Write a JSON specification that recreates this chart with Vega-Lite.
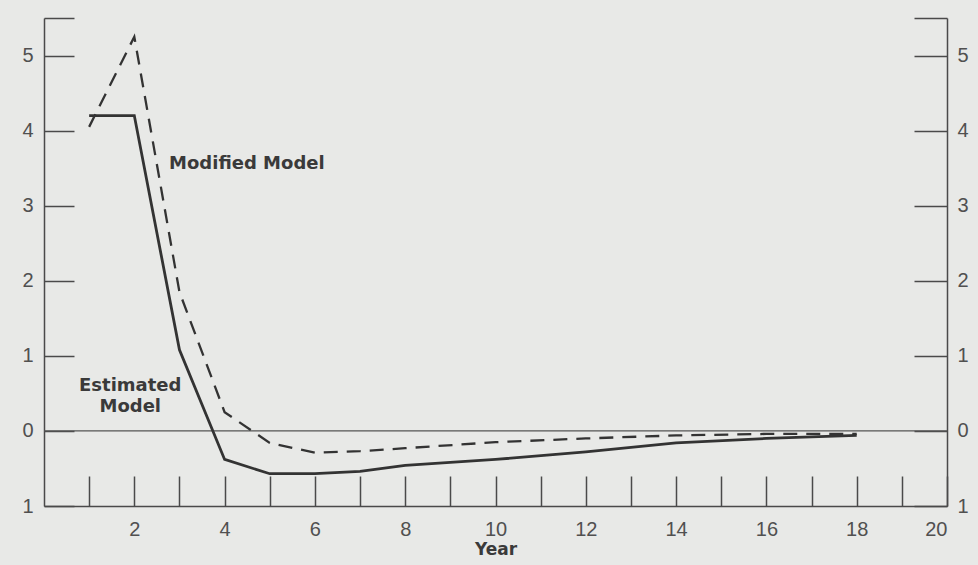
{
  "$schema": "https://vega.github.io/schema/vega-lite/v6.json",
  "autosize": "none",
  "width": 903,
  "height": 488,
  "padding": {"left": 44, "top": 18, "right": 31, "bottom": 59},
  "background": "#e8e9e7",
  "config": {
    "view": {"stroke": null},
    "axis": {"grid": false, "domainColor": "#4a4a4a", "tickColor": "#4a4a4a", "domainWidth": 1.5, "tickWidth": 1.5, "labelColor": "#505050", "labelFont": "Liberation Sans", "labelFontSize": 20, "titleFont": "DejaVu Sans", "titleFontWeight": "bold", "titleColor": "#3a3a3a"}
  },
  "datasets": {
    "series": [
      {"year": 1, "value": 4.2, "model": "Estimated"},
      {"year": 2, "value": 4.2, "model": "Estimated"},
      {"year": 3, "value": 1.08, "model": "Estimated"},
      {"year": 4, "value": -0.38, "model": "Estimated"},
      {"year": 5, "value": -0.57, "model": "Estimated"},
      {"year": 6, "value": -0.57, "model": "Estimated"},
      {"year": 7, "value": -0.54, "model": "Estimated"},
      {"year": 8, "value": -0.46, "model": "Estimated"},
      {"year": 10, "value": -0.38, "model": "Estimated"},
      {"year": 12, "value": -0.28, "model": "Estimated"},
      {"year": 14, "value": -0.16, "model": "Estimated"},
      {"year": 16, "value": -0.1, "model": "Estimated"},
      {"year": 18, "value": -0.06, "model": "Estimated"},
      {"year": 1, "value": 4.05, "model": "Modified"},
      {"year": 2, "value": 5.25, "model": "Modified"},
      {"year": 3, "value": 1.85, "model": "Modified"},
      {"year": 4, "value": 0.25, "model": "Modified"},
      {"year": 5, "value": -0.16, "model": "Modified"},
      {"year": 6, "value": -0.29, "model": "Modified"},
      {"year": 7, "value": -0.27, "model": "Modified"},
      {"year": 8, "value": -0.23, "model": "Modified"},
      {"year": 10, "value": -0.15, "model": "Modified"},
      {"year": 12, "value": -0.1, "model": "Modified"},
      {"year": 14, "value": -0.06, "model": "Modified"},
      {"year": 16, "value": -0.04, "model": "Modified"},
      {"year": 18, "value": -0.04, "model": "Modified"}
    ],
    "labels": [
      {"year": 2.77, "value": 3.56, "text": "Modified Model", "kind": "left"},
      {"year": 1.91, "value": 0.6, "text": "Estimated", "kind": "center"},
      {"year": 1.91, "value": 0.32, "text": "Model", "kind": "center"}
    ]
  },
  "resolve": {"axis": {"y": "independent"}},
  "layer": [
    {
      "data": {"values": [{"zero": 0}]},
      "mark": {"type": "rule", "color": "#555555", "strokeWidth": 1.2},
      "encoding": {
        "y": {"field": "zero", "type": "quantitative", "scale": {"domain": [-1, 5.5], "nice": false, "zero": false},
          "axis": {"orient": "left", "values": [-1, 0, 1, 2, 3, 4, 5, 5.5], "tickSize": -30, "labelPadding": 41, "title": null,
            "labelExpr": "datum.value == 5.5 ? '' : datum.value == -1 ? '1' : format(datum.value, 'd')"}}
      }
    },
    {
      "data": {"name": "series"},
      "transform": [{"filter": "datum.model == 'Estimated'"}],
      "mark": {"type": "line", "color": "#333333", "strokeWidth": 2.8},
      "encoding": {
        "x": {"field": "year", "type": "quantitative", "scale": {"domain": [0, 20], "nice": false},
          "axis": {"orient": "bottom", "values": [1,2,3,4,5,6,7,8,9,10,11,12,13,14,15,16,17,18,19,20], "tickSize": -30, "labelPadding": 43, "title": "Year", "titleFontSize": 17, "titlePadding": 2,
            "labelExpr": "datum.value % 2 == 0 ? datum.label : ''"}},
        "y": {"field": "value", "type": "quantitative",
          "axis": {"orient": "right", "values": [-1, 0, 1, 2, 3, 4, 5, 5.5], "tickSize": -33, "labelPadding": 43, "title": null,
            "labelExpr": "datum.value == 5.5 ? '' : datum.value == -1 ? '1' : format(datum.value, 'd')"}}
      }
    },
    {
      "data": {"name": "series"},
      "transform": [{"filter": "datum.model == 'Modified'"}],
      "mark": {"type": "line", "color": "#333333", "strokeWidth": 2.3, "strokeDash": [14, 9]},
      "encoding": {
        "x": {"field": "year", "type": "quantitative"},
        "y": {"field": "value", "type": "quantitative", "axis": null}
      }
    },
    {
      "data": {"name": "labels"},
      "transform": [{"filter": "datum.kind == 'left'"}],
      "mark": {"type": "text", "font": "DejaVu Sans", "fontWeight": "bold", "fontSize": 18, "color": "#3a3a3a", "baseline": "middle", "align": "left"},
      "encoding": {
        "x": {"field": "year", "type": "quantitative"},
        "y": {"field": "value", "type": "quantitative", "axis": null},
        "text": {"field": "text"}
      }
    },
    {
      "data": {"name": "labels"},
      "transform": [{"filter": "datum.kind == 'center'"}],
      "mark": {"type": "text", "font": "DejaVu Sans", "fontWeight": "bold", "fontSize": 18, "color": "#3a3a3a", "baseline": "middle", "align": "center"},
      "encoding": {
        "x": {"field": "year", "type": "quantitative"},
        "y": {"field": "value", "type": "quantitative", "axis": null},
        "text": {"field": "text"}
      }
    }
  ]
}
